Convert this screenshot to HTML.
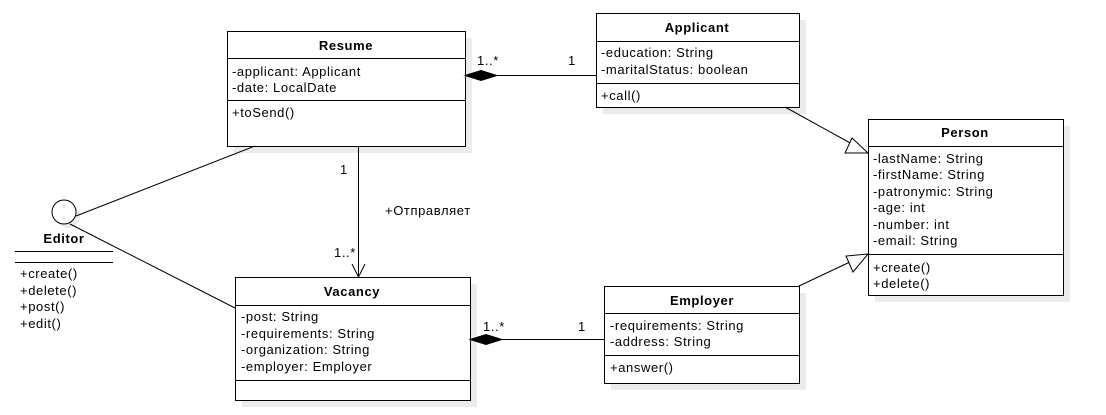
<!DOCTYPE html>
<html><head><meta charset="utf-8"><style>
html,body{margin:0;padding:0;background:#fff;}
svg{display:block;font-family:"Liberation Sans",Arial,sans-serif;font-size:13px;letter-spacing:0.6px;}
.b{font-weight:bold;}
</style></head><body>
<svg width="1106" height="415" viewBox="0 0 1106 415" xmlns="http://www.w3.org/2000/svg">
<g fill="#ebebeb">
<rect x="234" y="38" width="238" height="115"/>
<rect x="603" y="20" width="203" height="94"/>
<rect x="875" y="126" width="195" height="176"/>
<rect x="611" y="293" width="195" height="97"/>
<rect x="242" y="284" width="235" height="123"/>
<circle cx="68" cy="216" r="12"/>
</g>
<g fill="#fff" stroke="#000" stroke-width="1">
<rect x="227.5" y="31.5" width="238" height="115"/>
<line x1="227" y1="58.5" x2="465" y2="58.5"/><line x1="227" y1="100.5" x2="465" y2="100.5"/>
<rect x="596.5" y="13.5" width="203" height="94"/>
<line x1="596" y1="41.5" x2="799" y2="41.5"/><line x1="596" y1="83.5" x2="799" y2="83.5"/>
<rect x="868.5" y="119.5" width="195" height="176"/>
<line x1="868" y1="146.5" x2="1063" y2="146.5"/><line x1="868" y1="254.5" x2="1063" y2="254.5"/>
<rect x="604.5" y="286.5" width="195" height="97"/>
<line x1="604" y1="313.5" x2="799" y2="313.5"/><line x1="604" y1="355.5" x2="799" y2="355.5"/>
<rect x="235.5" y="277.5" width="235" height="123"/>
<line x1="235" y1="305.5" x2="470" y2="305.5"/><line x1="235" y1="380.5" x2="470" y2="380.5"/>
<circle cx="64" cy="212" r="12"/>
<line x1="15" y1="251.5" x2="113" y2="251.5"/><line x1="15" y1="262.5" x2="113" y2="262.5"/>
<line x1="255" y1="146" x2="76" y2="216"/>
<line x1="70" y1="224" x2="235" y2="308"/>
<line x1="358.5" y1="146" x2="358.5" y2="277"/>
<polyline points="352,264 358.5,277 365,264" fill="none"/>
<line x1="497" y1="75.5" x2="596" y2="75.5"/>
<polygon points="465,75.5 481,70.5 497,75.5 481,80.5" fill="#000"/>
<line x1="502" y1="339.5" x2="604" y2="339.5"/>
<polygon points="470,339.5 486,334.5 502,339.5 486,344.5" fill="#000"/>
<line x1="785" y1="107" x2="852" y2="144"/>
<polygon points="868,153 845,153 852,138" fill="#fff"/>
<line x1="799" y1="286" x2="852" y2="261"/>
<polygon points="868,254 846,256 853,272" fill="#fff"/>
</g>
<g fill="#000">
<text x="346" y="50" text-anchor="middle" class="b">Resume</text>
<text x="232" y="76">-applicant: Applicant</text>
<text x="232" y="92">-date: LocalDate</text>
<text x="232" y="117">+toSend()</text>
<text x="697" y="32" text-anchor="middle" class="b">Applicant</text>
<text x="601" y="57">-education: String</text>
<text x="601" y="74">-maritalStatus: boolean</text>
<text x="601" y="100">+call()</text>
<text x="965" y="137" text-anchor="middle" class="b">Person</text>
<text x="873" y="163">-lastName: String</text>
<text x="873" y="179">-firstName: String</text>
<text x="873" y="196">-patronymic: String</text>
<text x="873" y="212">-age: int</text>
<text x="873" y="229">-number: int</text>
<text x="873" y="245">-email: String</text>
<text x="873" y="272">+create()</text>
<text x="873" y="288">+delete()</text>
<text x="702" y="305" text-anchor="middle" class="b">Employer</text>
<text x="610" y="330">-requirements: String</text>
<text x="610" y="346">-address: String</text>
<text x="610" y="372">+answer()</text>
<text x="352" y="296" text-anchor="middle" class="b">Vacancy</text>
<text x="241" y="321">-post: String</text>
<text x="241" y="338">-requirements: String</text>
<text x="241" y="354">-organization: String</text>
<text x="241" y="371">-employer: Employer</text>
<text x="64" y="243" text-anchor="middle" class="b">Editor</text>
<text x="20" y="278">+create()</text>
<text x="20" y="295">+delete()</text>
<text x="20" y="311">+post()</text>
<text x="20" y="328">+edit()</text>
<text x="340" y="174">1</text>
<text x="334" y="257">1..*</text>
<text x="385" y="215">+Отправляет</text>
<text x="477" y="65">1..*</text>
<text x="568" y="65">1</text>
<text x="483" y="331">1..*</text>
<text x="578" y="331">1</text>
</g>
</svg>
</body></html>
